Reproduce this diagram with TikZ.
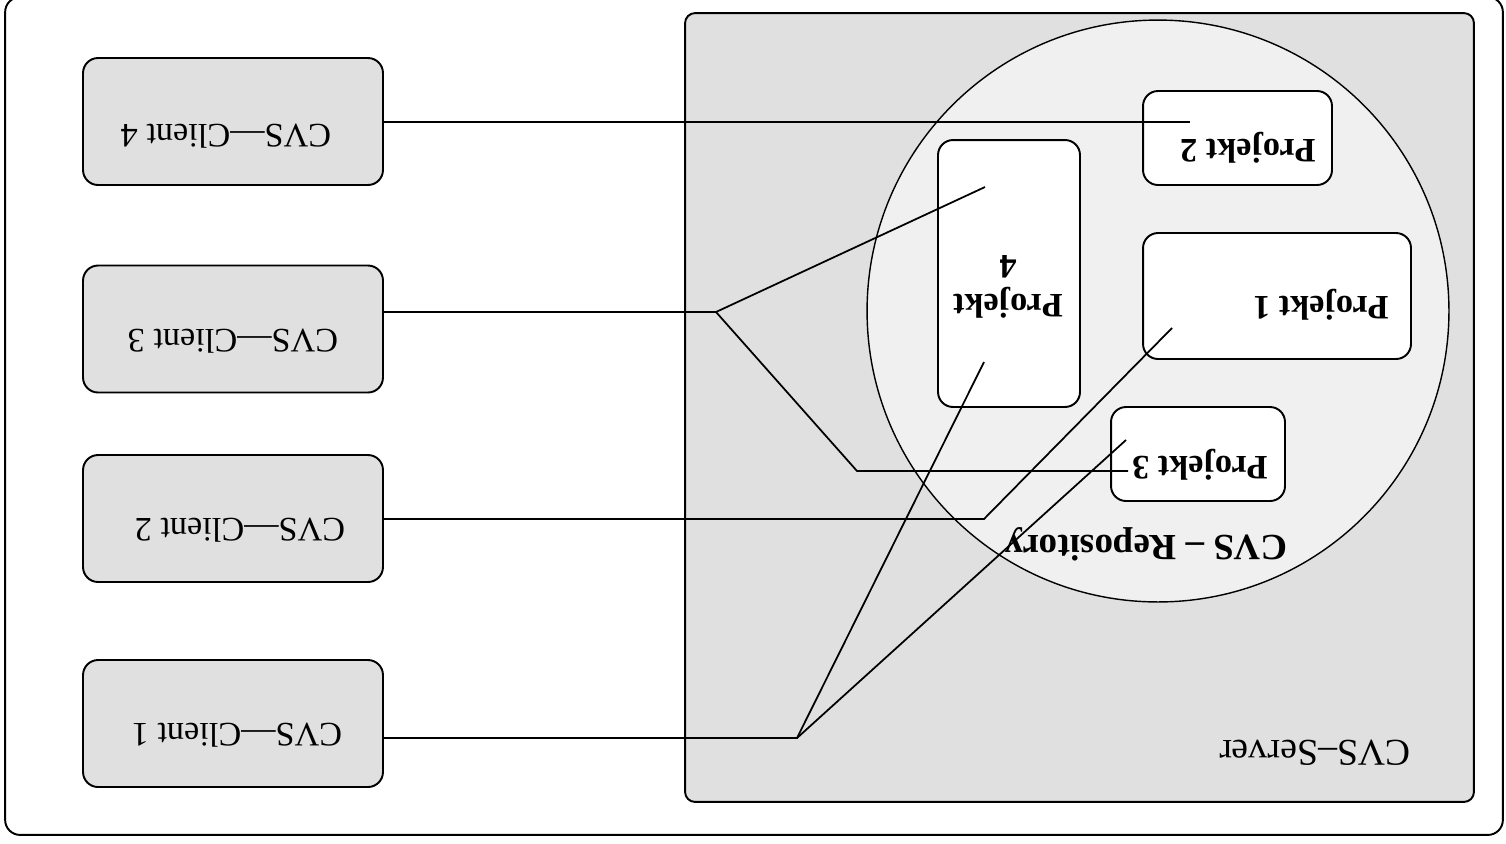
\documentclass[tikz,border=0pt]{standalone}
\usepackage{fontspec}
\setmainfont{Liberation Serif}
\definecolor{boxgray}{HTML}{E0E0E0}
\definecolor{circgray}{HTML}{F0F0F0}
\tikzset{
  frame/.style={draw, line width=1.1pt, rounded corners=0.3cm, inner sep=0pt},
  clientbox/.style={draw, line width=1.1pt, fill=boxgray, rounded corners=0.3cm,
    minimum width=6cm, minimum height=2.54cm, inner sep=0pt},
  projbox/.style={draw, line width=1.1pt, fill=white, rounded corners=0.3cm, inner sep=0pt},
  lbl/.style={rotate=180, inner sep=0pt, font=\fontsize{19.5}{22}\selectfont},
  blbl/.style={lbl, font=\fontsize{19.5}{22}\selectfont\bfseries},
  conn/.style={line width=1pt}
}
\begin{document}
\begin{tikzpicture}[x=0.02cm,y=-0.02cm]
\useasboundingbox (0,0) rectangle (1506,843);
\node[frame, minimum width=29.96cm, minimum height=16.76cm] (outer) at (754,416) {};
\node[frame, fill=boxgray, rounded corners=0.2cm, minimum width=15.78cm, minimum height=15.78cm] (server) at (1079.5,407.5) {};
\node[draw, line width=0.8pt, fill=circgray, circle, minimum size=11.64cm, inner sep=0pt] (repo) at (1158,311) {};
% project boxes
\node[projbox, minimum width=3.78cm, minimum height=1.88cm] (p2) at (1237.5,138) {};
\node[projbox, minimum width=5.36cm, minimum height=2.52cm] (p1) at (1277,296) {};
\node[projbox, minimum width=2.84cm, minimum height=5.34cm] (p4) at (1009,273.5) {};
\node[projbox, minimum width=3.48cm, minimum height=1.88cm] (p3) at (1198,454) {};
% clients
\node[clientbox] (c4) at (233,121.5) {};
\node[clientbox] (c3) at (233,329) {};
\node[clientbox] (c2) at (233,518.5) {};
\node[clientbox] (c1) at (233,723.5) {};
% connector coordinates
\coordinate (e2) at (1190,122);
\coordinate (j3) at (716,312);
\coordinate (k3) at (857,471);
\coordinate (e4a) at (985,187);
\coordinate (e3a) at (1128,471);
\coordinate (k2) at (984,519);
\coordinate (e1) at (1172,328);
\coordinate (j1) at (797,738);
\coordinate (e4b) at (984,362);
\coordinate (e3b) at (1126,440);
% connectors
\draw[conn] (c4.east |- e2) -- (e2);
\draw[conn] (c3.east |- j3) -- (j3) -- (e4a);
\draw[conn] (j3) -- (k3) -- (e3a);
\draw[conn] (c2.east |- k2) -- (k2) -- (e1);
\draw[conn] (c1.east |- j1) -- (j1) -- (e4b);
\draw[conn] (j1) -- (e3b);
% labels
\node[lbl] (t4) at (226,136) {CVS—Client 4};
\node[lbl] (t3) at (233,341) {CVS—Client 3};
\node[lbl] (t2) at (240,530) {CVS—Client 2};
\node[lbl] (t1) at (237,735) {CVS—Client 1};
\node[lbl, font=\fontsize{21.5}{24}\selectfont] (tserver) at (1315,753) {CVS–Server};
\node[blbl, font=\fontsize{21}{24}\selectfont\bfseries] (trepo) at (1146,544) {CVS – Repository};
\node[blbl] (tp2) at (1248,148) {Projekt 2};
\node[blbl] (tp1) at (1321,305) {Projekt 1};
\node[blbl, align=center] (tp4) at (1008,287) {Projekt\\4};
\node[blbl] (tp3) at (1200,465) {Projekt 3};
\end{tikzpicture}
\end{document}
